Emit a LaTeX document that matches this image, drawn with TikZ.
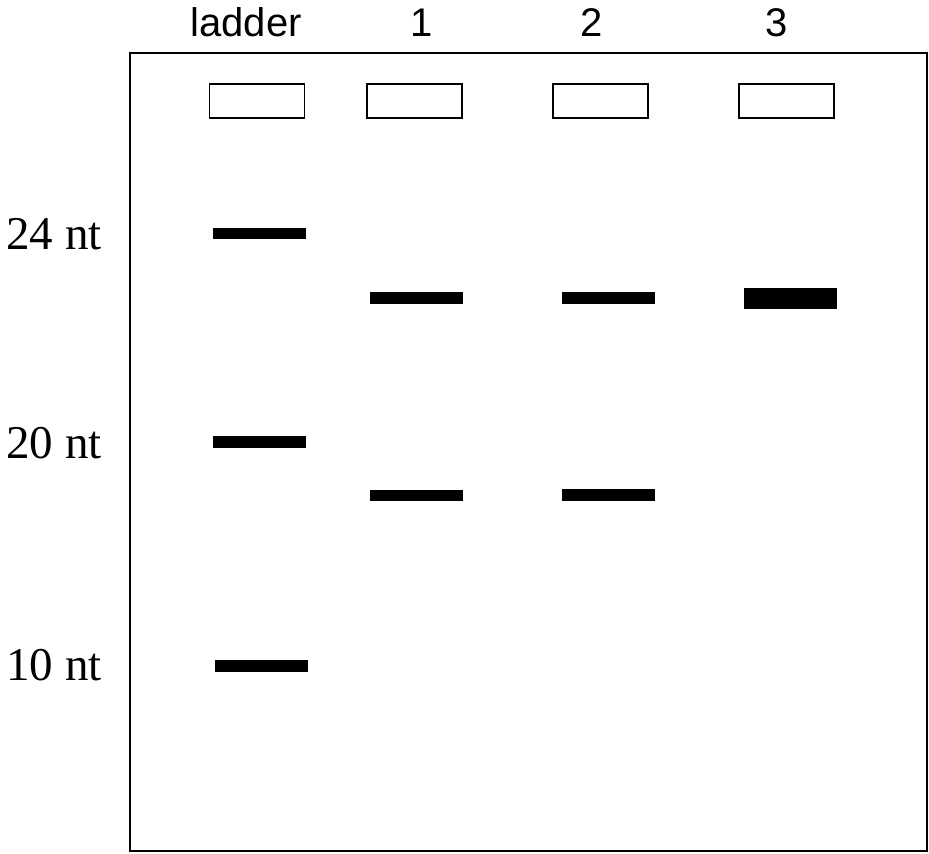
\documentclass[tikz,border=0pt]{standalone}
\usepackage{fontspec}
\setmainfont{Liberation Serif}
\newfontfamily\lanefont{Liberation Sans}
\begin{document}
\begin{tikzpicture}[x=1pt,y=-1pt,
  gel/.style={draw=black,line width=2.5pt,fill=white,inner sep=0pt,outer sep=0pt},
  well/.style={draw=black,line width=1.3pt,fill=white,inner sep=0pt,outer sep=0pt,minimum width=95pt,minimum height=34pt},
  band/.style={fill=black,inner sep=0pt,outer sep=0pt,minimum width=93pt,minimum height=#1},
  band/.default=12pt,
  lanelabel/.style={font=\lanefont\fontsize{40}{48}\selectfont,anchor=base,inner sep=0pt},
  sizelabel/.style={font=\fontsize{47}{56}\selectfont,anchor=base east,inner sep=0pt}]
\useasboundingbox (0,0) rectangle (929,854);
\fill[white] (0,0) rectangle (929,854);
% gel
\node[gel,minimum width=797pt,minimum height=798pt] (gel) at (528.5,452) {};
% wells
\node[well] (w0) at (257,101) {};
\node[well] (w1) at (414.5,101) {};
\node[well] (w2) at (600.5,101) {};
\node[well] (w3) at (786.5,101) {};
% lane labels
\node[lanelabel] (l0) at (246,36) {ladder};
\node[lanelabel] (l1) at (422,36) {1};
\node[lanelabel] (l2) at (592,36) {2};
\node[lanelabel] (l3) at (777,36) {3};
% ladder bands
\node[band=11pt] (b24) at (259.5,233.5) {};
\node[band=12pt] (b20) at (259.5,442) {};
\node[band=12pt] (b10) at (261.5,666) {};
% sample bands
\node[band=12pt] (b1a) at (416.5,298) {};
\node[band=11pt] (b1b) at (416.5,495.5) {};
\node[band=12pt] (b2a) at (608.5,298) {};
\node[band=12pt] (b2b) at (608.5,495) {};
\node[band=21pt] (b3a) at (790.5,298.5) {};
% size labels
\node[sizelabel] (s24) at (102,249) {24 nt};
\node[sizelabel] (s20) at (102,458) {20 nt};
\node[sizelabel] (s10) at (102,680) {10 nt};
\end{tikzpicture}
\end{document}
